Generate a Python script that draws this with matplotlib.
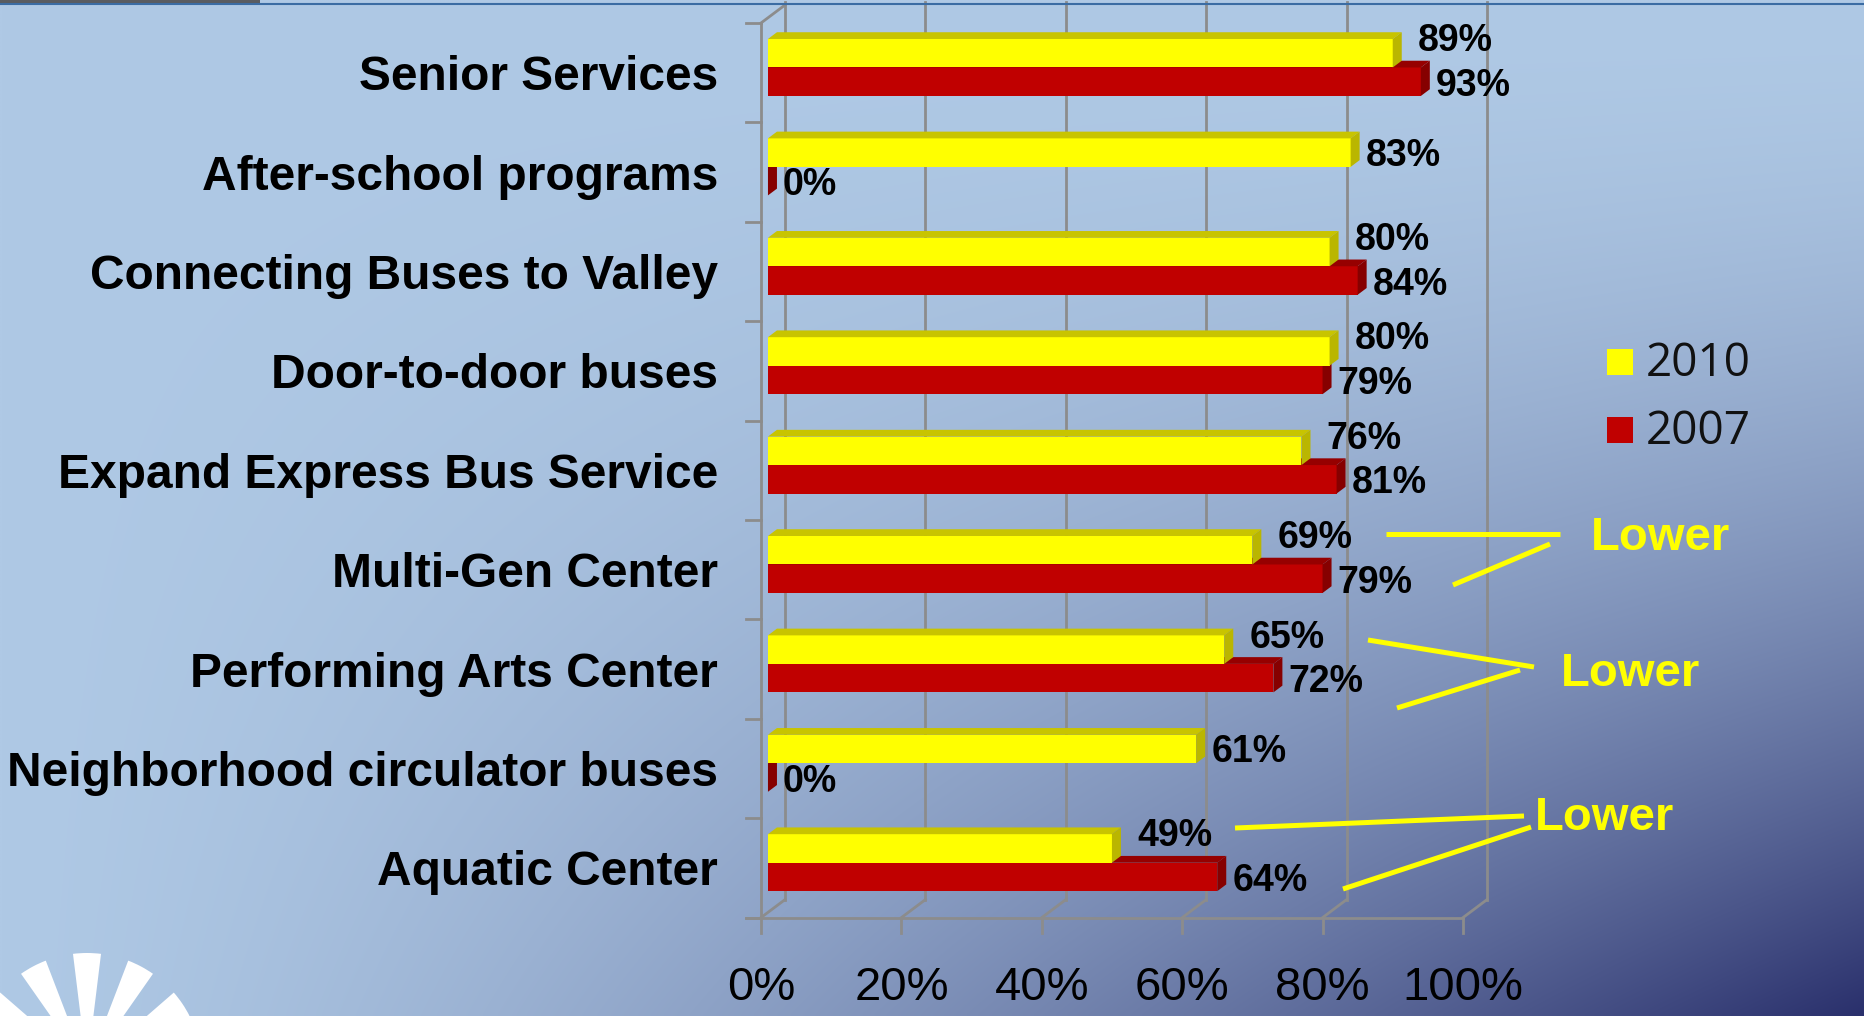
import numpy as np
import matplotlib
matplotlib.use("Agg")
import matplotlib.pyplot as plt
from matplotlib.patches import Polygon, Wedge, Rectangle

plt.rcParams['font.family'] = ['Liberation Sans', 'DejaVu Sans']

# ---- data ----
categories = ["Senior Services", "After-school programs", "Connecting Buses to Valley",
              "Door-to-door buses", "Expand Express Bus Service", "Multi-Gen Center",
              "Performing Arts Center", "Neighborhood circulator buses", "Aquatic Center"]
vals_2010 = [89, 83, 80, 80, 76, 69, 65, 61, 49]
vals_2007 = [93, 0, 84, 79, 81, 79, 72, 0, 64]
series = ["2010", "2007"]
ticks = [0, 20, 40, 60, 80, 100]
tick_labels = ["0%", "20%", "40%", "60%", "80%", "100%"]
note = "Lower"

# ---- layout / style ----
W, H = 1865, 1016
yellow = ("#ffff00", "#c8c400", "#bab600")   # front, top, side
red = ("#c00000", "#960000", "#860000")
grid_c = "#8c8c8c"

fig = plt.figure(figsize=(W / 100, H / 100), dpi=100)

# slide background gradient
bg = fig.add_axes([0, 0, 1, 1])
xx, yy = np.meshgrid(np.linspace(0, 1, 466), np.linspace(0, 1, 254))
t = np.clip(xx ** 1.4 * yy ** 1.7, 0, 1)
light = np.array([175, 201, 229]) / 255
dark = np.array([42, 48, 108]) / 255
img = light + (dark - light) * t[..., None]
bg.imshow(img, extent=(0, W, H, 0), aspect="auto", interpolation="bilinear")
bg.set_xlim(0, W)
bg.set_ylim(H, 0)
bg.axis("off")

# chart axes: x in percent, y in category index (front plane)
PX, PY = 7.02, 99.4      # pixels per percent / per category
X0, Y0 = 761, 23         # 0% and top of first category, in pixels
ax = fig.add_axes([0, 0, 1, 1])
ax.set_xlim(-X0 / PX, (W - X0) / PX)
ax.set_ylim(-0.5 + (H - Y0) / PY, -0.5 - Y0 / PY)
ax.axis("off")

n = len(categories)
bottom = n - 0.5
DX, DY = 24 / PX, 18 / PY       # wall depth
z0, dz = 0.29, 0.375            # bar position / depth inside the wall
bh = 28.5 / PY
lw = 2

# walls and gridlines
for v, lab in zip(ticks, tick_labels):
    ax.plot([v + DX, v + DX], [bottom - DY, -0.5 - DY - 3 / PY], color=grid_c, lw=lw, zorder=1)
    ax.plot([v, v + DX], [bottom, bottom - DY], color=grid_c, lw=lw, zorder=1)
    ax.plot([v, v], [bottom, bottom + 15 / PY], color=grid_c, lw=lw, zorder=1)
    ax.text(v, -0.5 + (988 - Y0) / PY, lab, fontsize=34, ha="center", va="center")
ax.plot([-15 / PX, ticks[-1]], [bottom, bottom], color=grid_c, lw=lw, zorder=1)
ax.plot([0, 0], [-0.5, bottom], color=grid_c, lw=lw, zorder=1)
ax.plot([0, DX], [-0.5, -0.5 - DY], color=grid_c, lw=lw, zorder=1)
for k in range(n + 1):
    ax.plot([-15 / PX, 0], [k - 0.5, k - 0.5], color=grid_c, lw=lw, zorder=1)


def bar3d(y_top, val, cols, z):
    x0 = z0 * DX
    yt = y_top - z0 * DY
    ax.barh(yt + bh / 2, val, left=x0, height=bh, color=cols[0], lw=0, zorder=z)
    x1 = x0 + val
    ex, ey = dz * DX, -dz * DY
    ax.add_patch(Polygon([(x0, yt), (x0 + ex, yt + ey), (x1 + ex, yt + ey), (x1, yt)],
                         closed=True, fc=cols[1], ec="none", zorder=z))
    ax.add_patch(Polygon([(x1, yt), (x1 + ex, yt + ey), (x1 + ex, yt + bh + ey), (x1, yt + bh)],
                         closed=True, fc=cols[2], ec="none", zorder=z))
    return x1 + ex, yt + bh / 2


for i, cat in enumerate(categories):
    ax.text(-43 / PX, i + 5 / PY, cat, fontsize=34.5, fontweight="bold", ha="right", va="center")
    a, b = vals_2010[i], vals_2007[i]
    rx, ry = bar3d(i, b, red, 3)
    yx, yy_ = bar3d(i - bh, a, yellow, 4)
    ax.text(rx + 6 / PX, ry + 4 / PY, f"{b}%", fontsize=27, fontweight="bold",
            ha="left", va="center", zorder=6)
    shift = b > 0
    ax.text(yx + (6 + 10 * shift) / PX, yy_ + (3 - 15 * shift) / PY, f"{a}%", fontsize=27,
            fontweight="bold", ha="left", va="center", zorder=6)

# overlay in pixel coordinates: legend, notes, slide decorations
ov = fig.add_axes([0, 0, 1, 1])
ov.set_xlim(0, W)
ov.set_ylim(H, 0)
ov.axis("off")

for k, (name, c) in enumerate(zip(series, [yellow[0], red[0]])):
    yc = 362 + 68 * k
    ov.add_patch(Rectangle((1607, yc - 13), 26, 26, fc=c, ec="none"))
    ov.text(1646, yc + 2, name, fontsize=33, family=["Open Sans", "DejaVu Sans"],
            ha="left", va="center", color="#111111")

note_xy = [(1591, 538), (1561, 674), (1535, 818)]
note_lines = [
    [((1386, 534), (1560, 534)), ((1453, 585), (1550, 544))],
    [((1368, 640), (1534, 667)), ((1397, 708), (1520, 670))],
    [((1235, 828), (1524, 816)), ((1343, 889), (1531, 827))],
]
for (tx, ty), segs in zip(note_xy, note_lines):
    ov.text(tx, ty, note, fontsize=34, fontweight="bold", color="#ffff00",
            ha="left", va="center")
    for (p, q) in segs:
        ov.plot([p[0], q[0]], [p[1], q[1]], color="#ffff00", lw=3.6, solid_capstyle="butt")

# top rule and photo strip
ov.plot([0, W], [4, 4], color="#3b6ca3", lw=1.5)
ov.add_patch(Rectangle((0, 0), 260, 3.5, fc="#5a5c60", ec="none"))

# logo sunburst, bottom-left
for a in [270 - 56, 270 - 28, 270, 270 + 28, 270 + 56]:
    ov.add_patch(Wedge((87, 1068), 115, a - 7, a + 7, width=75, fc="white", ec="none"))

fig.savefig("out.png", dpi=100)
